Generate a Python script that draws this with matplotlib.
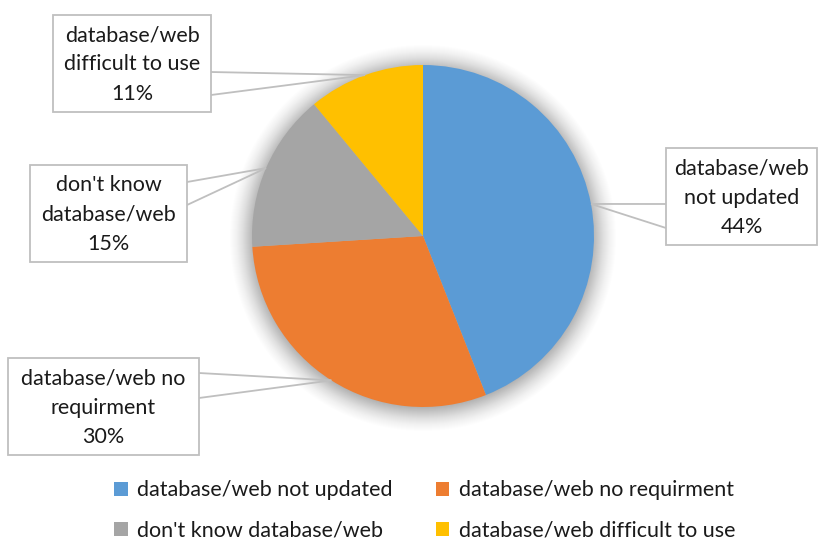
import matplotlib
matplotlib.use("Agg")
import matplotlib.pyplot as plt
from matplotlib.patches import Rectangle, Circle
import numpy as np

plt.rcParams['font.family'] = ['Lato', 'DejaVu Sans']

categories = ["database/web not updated", "database/web no requirment",
              "don't know database/web", "database/web difficult to use"]
values = [44, 30, 15, 11]
label_texts = ["database/web\nnot updated", "database/web no\nrequirment",
               "don't know\ndatabase/web", "database/web\ndifficult to use"]
colors = ["#5B9BD5", "#ED7D31", "#A5A5A5", "#FFC000"]

W, H = 818, 540
fig = plt.figure(figsize=(W / 100, H / 100), dpi=100)
ax = fig.add_axes([0, 0, 1, 1])

cx, cy, R = 423, 236, 171

# soft shadow
for i in range(24):
    rr = R + 22 - i
    ax.add_patch(Circle((cx, cy + 2), rr, color='black', alpha=0.006 + i * 0.0006, lw=0, zorder=1))

wedges, _ = ax.pie(values, colors=colors, startangle=-90, counterclock=True,
                   center=(cx, cy), radius=R, frame=True,
                   wedgeprops=dict(linewidth=0))
for w in wedges:
    w.set_zorder(3)
ax.set_xlim(0, W)
ax.set_ylim(H, 0)
ax.set_aspect('equal')
ax.axis('off')

TXT = '#1a1a1a'
FS = 15.5

# label boxes: (x0, y0, x1, y1) and leader attach y-values on the box side
boxes = [
    ((666, 148, 817, 245), 'left', (204, 228)),
    ((8, 358, 199, 455), 'right', (373, 398)),
    ((30, 165, 187, 262), 'right', (182, 205)),
    ((53, 15, 211, 112), 'right', (72, 95)),
]
lc = '#BFBFBF'
for w, txt, v, (box, side, ys) in zip(wedges, label_texts, values, boxes):
    mid = np.deg2rad((w.theta1 + w.theta2) / 2)
    ax_x = cx + R * np.cos(mid)
    ax_y = cy + R * np.sin(mid)
    x0, y0, x1, y1 = box
    ex = x0 if side == 'left' else x1
    for yy in ys:
        ax.plot([ax_x, ex], [ax_y, yy], color=lc, lw=1.3, zorder=4, solid_capstyle='butt')
    ax.add_patch(Rectangle((x0, y0), x1 - x0, y1 - y0, facecolor='white', edgecolor=lc, lw=1.3, zorder=5))
    ax.text((x0 + x1) / 2, (y0 + y1) / 2 + 1, f"{txt}\n{v}%", ha='center', va='center',
            fontsize=FS, color=TXT, linespacing=1.58, zorder=6)

# legend filled row-wise: reorder for matplotlib's column-wise fill
order = [0, 2, 1, 3]
leg = fig.legend([wedges[i] for i in order], [categories[i] for i in order], ncol=2,
                 loc='upper left', bbox_to_anchor=(95 / W, 1 - 461 / H),
                 frameon=False, fontsize=FS, handlelength=0.62, handleheight=0.62,
                 handletextpad=0.45, columnspacing=2.0, labelspacing=0.95, labelcolor=TXT)
for h in leg.legend_handles:
    h.set_edgecolor('none')

fig.savefig('out.png', dpi=100, facecolor='white')
